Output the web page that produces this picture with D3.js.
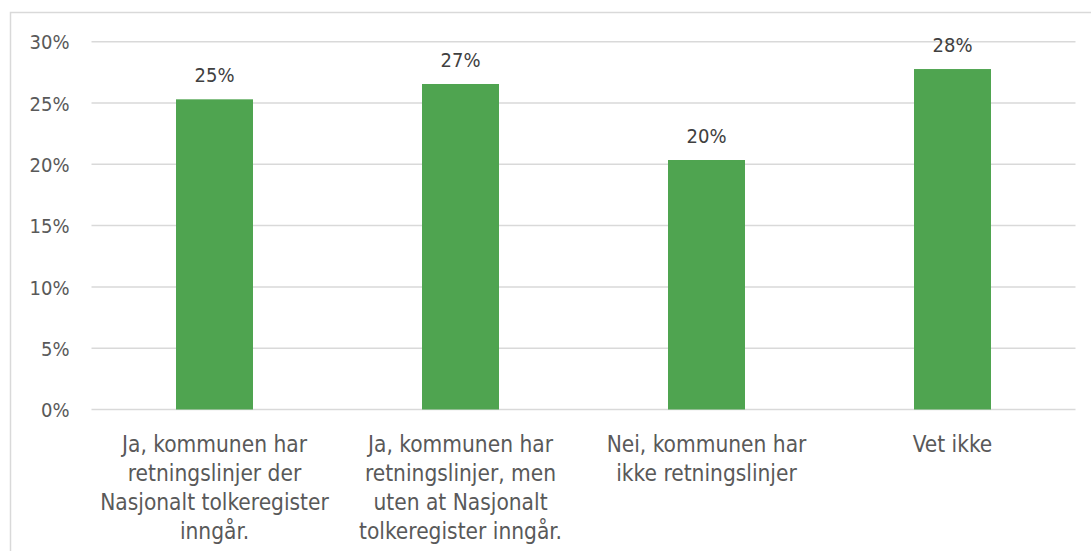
<!DOCTYPE html>
<html>
<head>
<meta charset="utf-8">
<script src="https://cdn.jsdelivr.net/npm/d3@7"></script>
<style>
  html, body { margin: 0; padding: 0; background: #fff; }
  svg { display: block; font-family: "DejaVu Sans Condensed", "DejaVu Sans", sans-serif; font-stretch: condensed; }
</style>
</head>
<body>
<div id="chart"></div>
<script>
// categories, wrapped the same way as in the original chart
const categories = [
  ["Ja, kommunen har", "retningslinjer der", "Nasjonalt tolkeregister", "inngår."],
  ["Ja, kommunen har", "retningslinjer, men", "uten at Nasjonalt", "tolkeregister inngår."],
  ["Nei, kommunen har", "ikke retningslinjer"],
  ["Vet ikke"]
];
const values = [25.3, 26.55, 20.35, 27.77];
const valueLabels = ["25%", "27%", "20%", "28%"];
const yTicks = [0, 5, 10, 15, 20, 25, 30];

const width = 1091, height = 551;
const plotLeft = 91.5, plotRight = 1075.5, plotTop = 41.7, plotBottom = 409.5;
const font = "'DejaVu Sans Condensed', 'DejaVu Sans', sans-serif";

const svg = d3.select("#chart").append("svg")
  .attr("width", width)
  .attr("height", height);

// outer frame
svg.append("rect")
  .attr("x", 10.5).attr("y", 12.5)
  .attr("width", 1200).attr("height", 700)
  .attr("fill", "none")
  .attr("stroke", "#d9d9d9")
  .attr("stroke-width", 1.5);

const keys = categories.map((c, i) => i);

const x = d3.scaleBand()
  .domain(keys)
  .range([plotLeft, plotRight])
  .paddingInner(0.687)
  .paddingOuter(0.3435);

const y = d3.scaleLinear()
  .domain([0, 30])
  .range([plotBottom, plotTop]);

// gridlines
svg.append("g")
  .selectAll("line")
  .data(yTicks)
  .enter()
  .append("line")
  .attr("x1", plotLeft).attr("x2", plotRight)
  .attr("y1", d => y(d)).attr("y2", d => y(d))
  .attr("stroke", "#d9d9d9")
  .attr("stroke-width", 1.5);

// y axis labels
const yAxis = svg.append("g")
  .attr("transform", "translate(" + (plotLeft - 22) + ",0)")
  .call(d3.axisLeft(y).tickValues(yTicks).tickSize(0).tickFormat(d => d + "%"));
yAxis.select(".domain").remove();
yAxis.selectAll("text")
  .attr("x", 0)
  .attr("dy", "0.36em")
  .style("font-size", "20px")
  .style("font-family", font)
  .attr("fill", "#595959");

// bars
svg.selectAll("rect.bar")
  .data(values)
  .enter()
  .append("rect")
  .attr("class", "bar")
  .attr("x", (d, i) => x(i))
  .attr("width", x.bandwidth())
  .attr("y", d => y(d))
  .attr("height", d => y(0) - y(d))
  .attr("fill", "#4fa450");

// value labels
svg.selectAll("text.val")
  .data(values)
  .enter()
  .append("text")
  .attr("class", "val")
  .attr("x", (d, i) => x(i) + x.bandwidth() / 2)
  .attr("y", d => y(d) - 17)
  .attr("text-anchor", "middle")
  .style("font-size", "20px")
  .style("font-family", font)
  .attr("fill", "#404040")
  .text((d, i) => valueLabels[i]);

// category labels
const xAxis = svg.append("g")
  .attr("transform", "translate(0," + plotBottom + ")")
  .call(d3.axisBottom(x).tickSize(0).tickFormat(""));
xAxis.select(".domain").remove();
xAxis.selectAll(".tick")
  .append("text")
  .attr("text-anchor", "middle")
  .attr("fill", "#595959")
  .style("font-size", "22.5px")
  .style("font-family", font)
  .selectAll("tspan")
  .data(i => categories[i])
  .enter()
  .append("tspan")
  .attr("x", 0)
  .attr("y", (d, j) => 42 + j * 29)
  .text(d => d);
</script>
</body>
</html>
